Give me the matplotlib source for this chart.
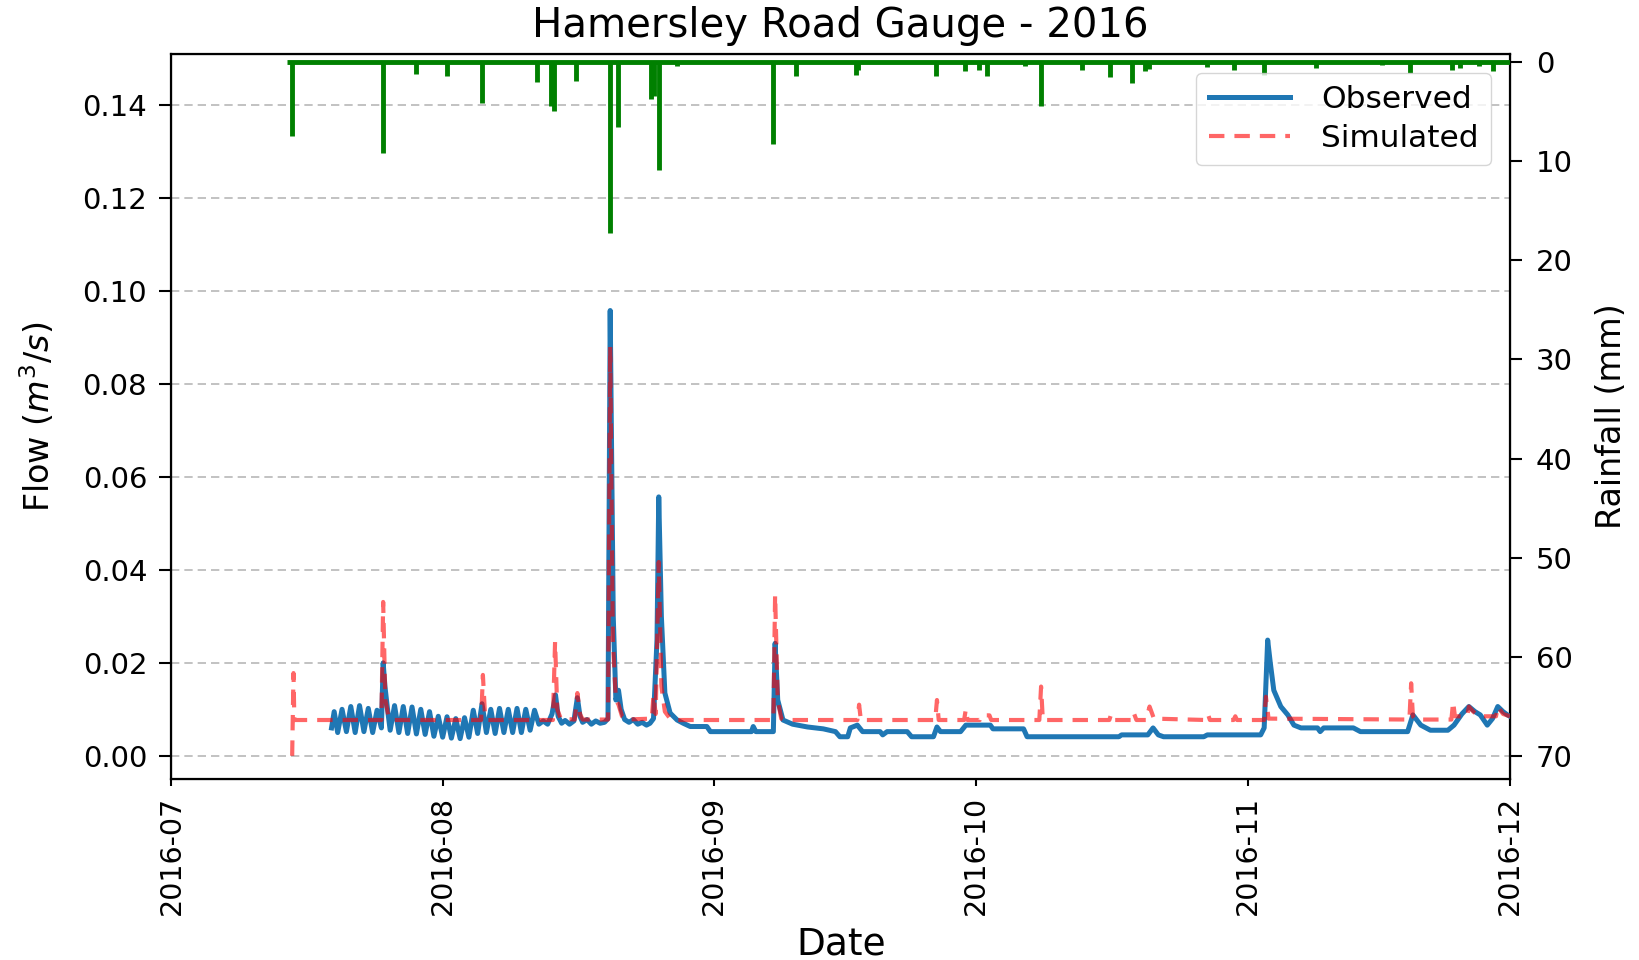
import matplotlib
matplotlib.use("Agg")

import matplotlib.pyplot as plt
import matplotlib.dates as mdates
import pandas as pd


INICIO = pd.Timestamp("2016-07-01")
FIM = pd.Timestamp("2016-12-01")

# dias contados a partir de 2016-07-01
obs_dias = [
    18.3, 18.6, 19.0, 19.5, 20.0, 20.5, 21.0, 21.5, 22.0, 22.5, 23.0, 23.5,
    24.0, 24.2, 24.4, 24.7, 25.0, 25.5, 26.0, 26.5, 27.0, 27.5, 28.0, 28.5,
    29.0, 29.5, 30.0, 30.5, 31.0, 31.5, 32.0, 32.5, 33.0, 33.5, 34.0, 34.5,
    35.0, 35.5, 36.0, 36.5, 37.0, 37.5, 38.0, 38.5, 39.0, 39.5, 40.0, 40.5,
    41.0, 41.5, 42.0, 42.5, 43.0, 43.5, 43.9, 44.2, 44.6, 45.0, 45.5, 46.0,
    46.4, 46.7, 47.0, 47.5, 48.0, 48.5, 49.0, 49.5, 49.9, 50.15, 50.5, 50.8,
    51.1, 51.4, 51.8, 52.3, 52.8, 53.3, 53.8, 54.3, 54.7, 55.1, 55.5, 55.7,
    56.0, 56.4, 57.0, 57.8, 58.5, 59.3, 61.2, 61.6, 66.3, 66.5, 66.8, 68.8,
    69.0, 69.3, 69.9, 71.0, 72.7, 74.5, 75.9, 76.4, 77.3, 77.6, 78.4, 79.0,
    81.0, 81.3, 81.8, 84.1, 84.6, 87.1, 87.5, 87.9, 90.2, 90.8, 91.7, 93.6,
    93.9, 97.4, 97.8, 108.3, 108.6, 111.6, 112.2, 112.8, 113.4, 118.0, 118.4, 124.5,
    124.9, 125.3, 125.6, 126.0, 126.8, 127.6, 128.3, 129.1, 131.0, 131.3, 131.7, 135.1,
    135.9, 141.3, 141.9, 142.8, 143.9, 145.9, 146.6, 147.5, 148.3, 149.0, 149.6, 150.4,
    151.0, 151.6, 152.2, 152.7, 153.0,
]
obs_vazao = [
    0.0060, 0.0095, 0.0050, 0.0100, 0.0052, 0.0106, 0.0050, 0.0108, 0.0052, 0.0102, 0.0050, 0.0098,
    0.0060, 0.0200, 0.0150, 0.0100, 0.0055, 0.0108, 0.0050, 0.0106, 0.0048, 0.0105, 0.0047, 0.0100,
    0.0046, 0.0095, 0.0042, 0.0085, 0.0040, 0.0084, 0.0038, 0.0080, 0.0037, 0.0082, 0.0040, 0.0098,
    0.0048, 0.0112, 0.0050, 0.0100, 0.0048, 0.0102, 0.0050, 0.0100, 0.0050, 0.0102, 0.0050, 0.0100,
    0.0055, 0.0098, 0.0068, 0.0075, 0.0068, 0.0090, 0.0131, 0.0085, 0.0070, 0.0076, 0.0068, 0.0075,
    0.0125, 0.0085, 0.0072, 0.0078, 0.0068, 0.0075, 0.0070, 0.0072, 0.0080, 0.0958, 0.0300, 0.0120,
    0.0141, 0.0100, 0.0078, 0.0072, 0.0078, 0.0068, 0.0072, 0.0066, 0.0070, 0.0080, 0.0250, 0.0557,
    0.0300, 0.0135, 0.0092, 0.0077, 0.0070, 0.0063, 0.0063, 0.0052, 0.0052, 0.0063, 0.0052, 0.0052,
    0.0242, 0.0120, 0.0077, 0.0068, 0.0062, 0.0058, 0.0052, 0.0041, 0.0041, 0.0060, 0.0066, 0.0052,
    0.0052, 0.0045, 0.0052, 0.0052, 0.0041, 0.0041, 0.0062, 0.0052, 0.0052, 0.0066, 0.0066, 0.0066,
    0.0058, 0.0058, 0.0041, 0.0041, 0.0045, 0.0045, 0.0060, 0.0045, 0.0041, 0.0041, 0.0045, 0.0045,
    0.0060, 0.0249, 0.0200, 0.0141, 0.0106, 0.0088, 0.0066, 0.0060, 0.0060, 0.0052, 0.0060, 0.0060,
    0.0052, 0.0052, 0.0088, 0.0066, 0.0055, 0.0055, 0.0066, 0.0090, 0.0106, 0.0095, 0.0088, 0.0066,
    0.0080, 0.0106, 0.0095, 0.0088, 0.0085,
]

sim_dias = [
    13.8, 13.95, 14.05, 24.0, 24.2, 24.45, 24.8, 25.2, 35.4, 35.6, 35.85, 36.2,
    43.6, 43.85, 44.1, 44.5, 46.1, 46.4, 46.7, 47.0, 49.9, 50.15, 50.45, 50.8,
    51.1, 51.5, 52.0, 54.9, 55.1, 55.35, 55.7, 56.0, 56.4, 57.0, 57.5, 68.8,
    69.0, 69.3, 69.7, 70.0, 78.4, 78.6, 78.8, 87.3, 87.5, 87.7, 90.6, 90.8,
    91.0, 92.4, 92.6, 93.5, 93.7, 99.2, 99.4, 99.6, 107.2, 107.4, 107.6, 109.8,
    110.0, 110.3, 111.4, 111.8, 112.3, 118.3, 118.5, 118.7, 121.4, 121.6, 121.8, 124.9,
    125.1, 125.4, 141.5, 141.7, 141.9, 142.2, 146.3, 146.5, 146.7, 148.1, 148.3, 148.8,
    149.5, 151.4, 151.6, 152.2, 153.0,
]
sim_vazao = [
    0.0000, 0.0178, 0.0077, 0.0077, 0.0331, 0.0120, 0.0085, 0.0077, 0.0077, 0.0174, 0.0085, 0.0077,
    0.0077, 0.0245, 0.0100, 0.0080, 0.0078, 0.0135, 0.0090, 0.0078, 0.0078, 0.0880, 0.0250, 0.0120,
    0.0110, 0.0085, 0.0078, 0.0080, 0.0130, 0.0090, 0.0417, 0.0150, 0.0095, 0.0080, 0.0077, 0.0077,
    0.0346, 0.0120, 0.0080, 0.0077, 0.0077, 0.0110, 0.0077, 0.0077, 0.0120, 0.0077, 0.0077, 0.0100,
    0.0077, 0.0077, 0.0087, 0.0087, 0.0077, 0.0077, 0.0149, 0.0077, 0.0077, 0.0089, 0.0077, 0.0077,
    0.0092, 0.0077, 0.0077, 0.0106, 0.0080, 0.0077, 0.0088, 0.0077, 0.0077, 0.0085, 0.0077, 0.0077,
    0.0127, 0.0080, 0.0078, 0.0156, 0.0085, 0.0078, 0.0078, 0.0116, 0.0085, 0.0085, 0.0106, 0.0095,
    0.0085, 0.0085, 0.0106, 0.0090, 0.0085,
]

chuva_periodo = [13.2, 153.0]
chuva_dias = [
    13.8, 24.2, 27.9, 31.5, 35.5, 41.8, 43.4, 43.7, 46.2, 50.1, 51.0, 54.8,
    55.1, 55.7, 57.8, 68.8, 71.4, 78.3, 78.5, 87.4, 90.7, 92.3, 93.2, 97.6,
    99.4, 104.1, 107.3, 109.8, 111.3, 111.7, 118.4, 121.4, 124.9, 130.8, 138.4, 141.6,
    146.4, 147.3, 149.5, 151.0,
]
chuva_mm = [
    7.5, 9.2, 1.2, 1.4, 4.2, 2.0, 4.5, 5.0, 1.9, 17.3, 6.6, 3.8,
    3.5, 10.9, 0.4, 8.3, 1.45, 1.3, 0.8, 1.45, 0.9, 0.8, 1.45, 0.4,
    4.5, 0.8, 1.55, 2.1, 0.9, 0.7, 0.5, 0.8, 1.3, 0.6, 0.35, 1.1,
    0.8, 0.6, 0.4, 0.9,
]


def para_datas(dias):
    return INICIO + pd.to_timedelta(dias, unit="D")


def main() -> None:
    fig = plt.figure(figsize=(16.39, 9.6), dpi=100)
    ax = fig.add_axes([0.1046, 0.1885, 0.8167, 0.7553])

    ax.plot(para_datas(obs_dias), obs_vazao, color="#1f77b4", linewidth=3.6,
            label="Observed", zorder=3)
    ax.plot(para_datas(sim_dias), sim_vazao, color="red", alpha=0.6, linewidth=3.0,
            linestyle=(0, (3.7, 2.4)), label="Simulated", zorder=4)

    ax.set_xlim(INICIO, FIM)
    ax.set_ylim(-0.005, 0.151)
    ax.set_yticks([0.00, 0.02, 0.04, 0.06, 0.08, 0.10, 0.12, 0.14])
    ax.yaxis.set_major_formatter(plt.FormatStrFormatter("%.2f"))
    ax.grid(True, axis="y", linestyle=(0, (5, 3)), color="#b8b8b8", linewidth=1.2)
    ax.xaxis.set_major_locator(mdates.MonthLocator())
    ax.xaxis.set_major_formatter(mdates.DateFormatter("%Y-%m"))
    plt.setp(ax.get_xticklabels(), rotation=90)

    ax.tick_params(axis="y", labelsize=21, length=8.5, width=1.5, pad=9)
    ax.tick_params(axis="x", labelsize=20.5, length=5, width=1.5, pad=7)
    for s in ax.spines.values():
        s.set_linewidth(1.6)

    ax.set_xlabel("Date", fontsize=27, labelpad=8)
    ax.set_ylabel("Flow ($m^3/s$)", fontsize=24, labelpad=18)
    ax.set_title("Hamersley Road Gauge - 2016", fontsize=29, pad=12)

    ax2 = ax.twinx()
    ax2.hlines(0, para_datas(chuva_periodo[0]), para_datas(chuva_periodo[1]),
               color="green", linewidth=3.5)
    ax2.vlines(para_datas(chuva_dias), 0, chuva_mm, color="green", linewidth=3.5)
    ax2.set_ylim(72.3, -0.78)
    ax2.set_yticks([0, 10, 20, 30, 40, 50, 60, 70])
    ax2.tick_params(axis="y", labelsize=21, length=8.5, width=1.5, pad=10)
    ax2.set_ylabel("Rainfall (mm)", fontsize=24, labelpad=16)
    ax2.set_xlim(INICIO, FIM)

    h, l = ax.get_legend_handles_labels()
    leg = ax2.legend(h, l, loc="upper right", fontsize=22.5, handlelength=2.6,
                     handletextpad=1.0, labelspacing=0.3, framealpha=0.8,
                     edgecolor="#cccccc", borderaxespad=0.6)
    leg.set_zorder(10)

    fig.savefig("out.png", dpi=100)
    plt.close(fig)


if __name__ == "__main__":
    main()
